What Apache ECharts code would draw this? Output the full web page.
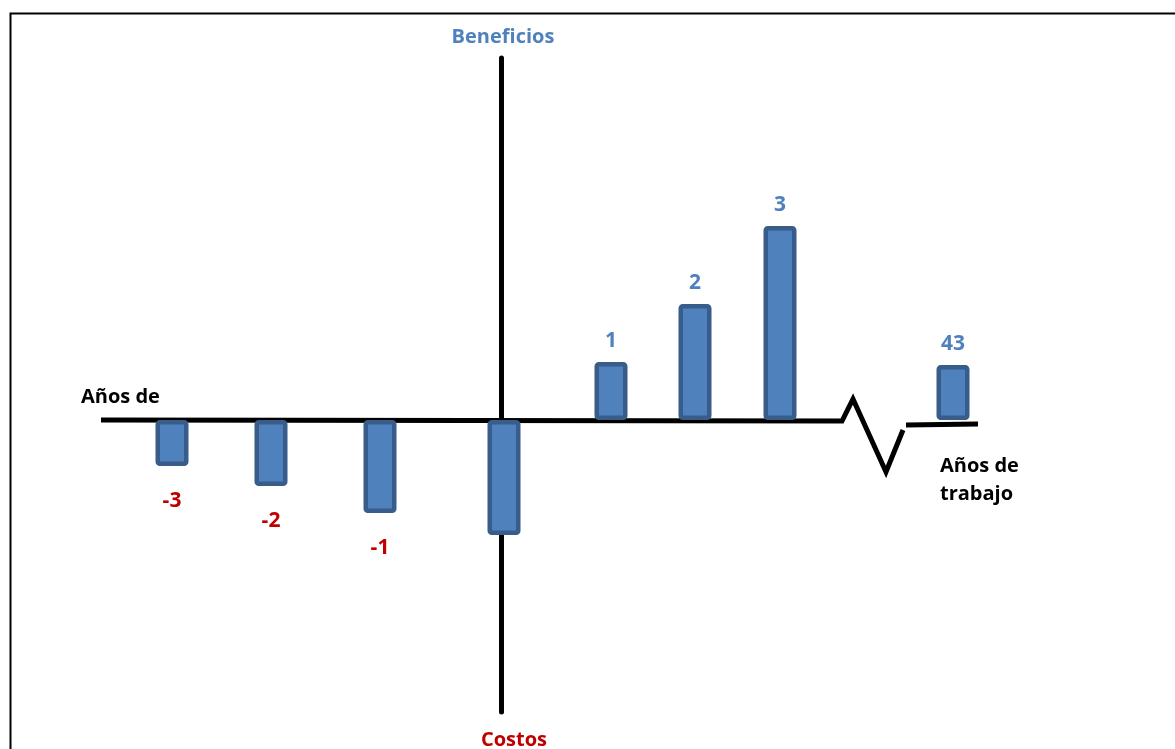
<!DOCTYPE html>
<html>
<head>
<meta charset="utf-8">
<style>
  html, body { margin: 0; padding: 0; background: #ffffff; }
  #chart { width: 1175px; height: 749px; }
</style>
<script src="https://cdn.jsdelivr.net/npm/echarts@6/dist/echarts.min.js"></script>
</head>
<body>
<div id="chart"></div>
<script>
// ---- data ----
const yearLabels = ['-3', '-2', '-1', '', '1', '2', '3', '43'];
// position of each bar along the (hand-drawn) time axis
const yearPositions = [-3.29, -2.30, -1.21, 0.03, 1.10, 1.94, 2.79, 4.52];
// costs (negative) and benefits (positive), arbitrary units
const flows = [-4.6, -6.6, -9.3, -11.5, 5.8, 11.6, 19.4, 5.5];
// time axis with a break before year 43
const axisPathX = [-4.0, 3.41, 3.52, 3.85, 4.02, null, 4.05, 4.77];
const axisPathY = [0, -0.1, 2.1, -5.2, -1.0, null, -0.5, -0.4];

const FONT = '"Open Sans"';
const BLUE = '#4F81BD';
const RED = '#C00000';

const barData = flows.map((v, i) => ({
  value: [yearPositions[i], v],
  label: {
    show: yearLabels[i] !== '',
    formatter: yearLabels[i],
    position: v < 0 ? 'bottom' : 'top',
    distance: v < 0 ? 25 : 10,
    color: v < 0 ? RED : BLUE,
    fontFamily: FONT,
    fontWeight: 'bold',
    fontSize: 21
  }
}));

const axisData = axisPathX.map((x, i) => (x === null ? [null, null] : [x, axisPathY[i]]));

const chart = echarts.init(document.getElementById('chart'), null, { renderer: 'canvas' });
chart.setOption({
  animation: false,
  backgroundColor: '#ffffff',
  grid: { left: 101, right: 197, top: 58, bottom: 37 },
  xAxis: {
    type: 'value', min: -4.0, max: 4.77,
    axisLine: { show: false }, axisTick: { show: false },
    axisLabel: { show: false }, splitLine: { show: false }
  },
  yAxis: {
    type: 'value', min: -29.2, max: 36.2,
    axisLine: { show: true, onZero: true, lineStyle: { color: '#000', width: 5 } },
    axisTick: { show: false }, axisLabel: { show: false }, splitLine: { show: false }
  },
  series: [
    {
      type: 'line',
      data: axisData,
      z: 1,
      showSymbol: false,
      symbol: 'none',
      connectNulls: false,
      lineStyle: { color: '#000', width: 5, join: 'miter' },
      silent: true
    },
    {
      type: 'bar',
      data: barData,
      barWidth: 33,
      z: 3,
      itemStyle: { color: BLUE, borderColor: '#385D8A', borderWidth: 4.5, borderRadius: 2 }
    }
  ],
  graphic: [
    { type: 'rect', left: 8, top: 11, shape: { width: 1200, height: 800 },
      style: { fill: 'none', stroke: '#000', lineWidth: 2 }, z: 0, silent: true },
    { type: 'text', x: 503, y: 37, style: { text: 'Beneficios', fill: BLUE,
      font: 'bold 20px ' + FONT, align: 'center', verticalAlign: 'middle' } },
    { type: 'text', x: 514, y: 740, style: { text: 'Costos', fill: RED,
      font: 'bold 20px ' + FONT, align: 'center', verticalAlign: 'middle' } },
    { type: 'text', x: 81, y: 397, style: { text: 'Años de', fill: '#000',
      font: 'bold 20px ' + FONT, align: 'left', verticalAlign: 'middle' } },
    { type: 'text', x: 940, y: 452, style: { text: 'Años de\ntrabajo', fill: '#000',
      font: 'bold 20px ' + FONT, lineHeight: 28, align: 'left', verticalAlign: 'top' } }
  ]
});
</script>
</body>
</html>
